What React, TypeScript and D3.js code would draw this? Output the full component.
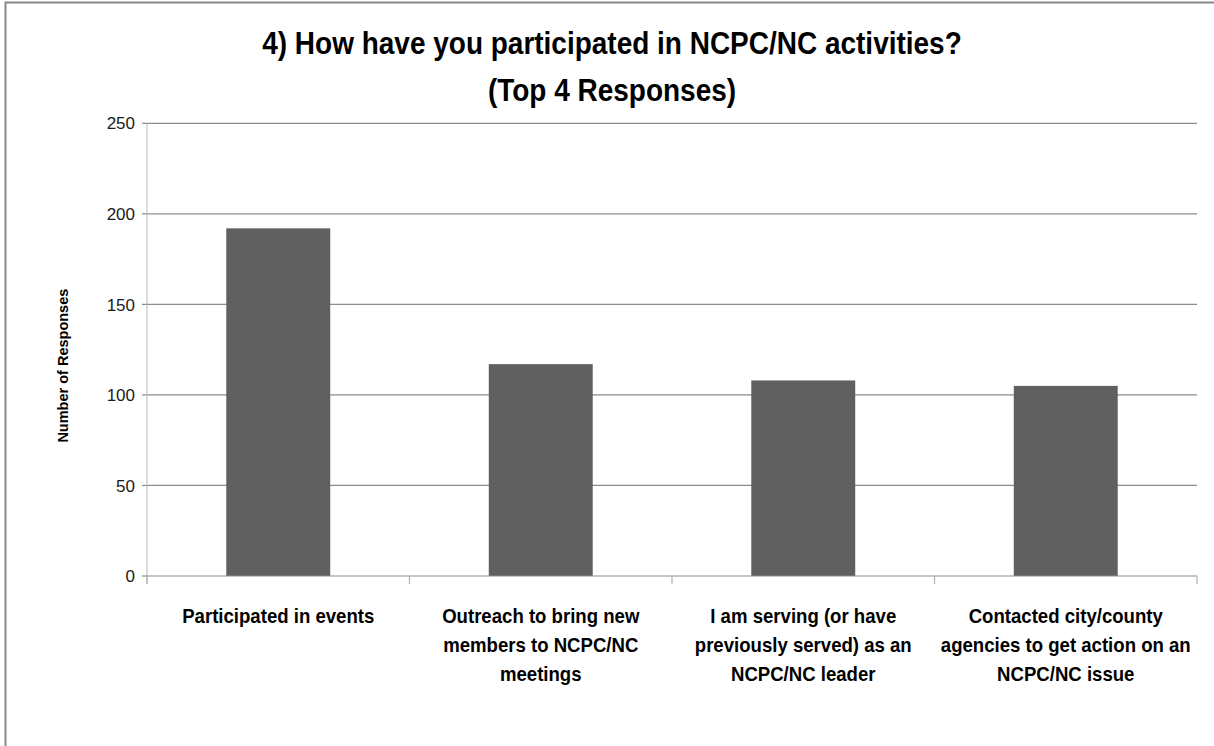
import React from "react";
import * as d3 from "d3";

const titleLines = ["4) How have you participated in NCPC/NC activities?", "(Top 4 Responses)"];
const categories = [
  "Participated in events",
  "Outreach to bring new members to NCPC/NC meetings",
  "I am serving (or have previously served) as an NCPC/NC leader",
  "Contacted city/county agencies to get action on an NCPC/NC issue",
];
const categoryLines = [
  ["Participated in events"],
  ["Outreach to bring new", "members to NCPC/NC", "meetings"],
  ["I am serving (or have", "previously served) as an", "NCPC/NC leader"],
  ["Contacted city/county", "agencies to get action on an", "NCPC/NC issue"],
];
const values = [192, 117, 108, 105];
const yTicks = [0, 50, 100, 150, 200, 250];
const yLabel = "Number of Responses";

const W = 1214;
const H = 746;
const M = { left: 147, right: 1197, top: 123.3, bottom: 576 };
const FONT = "'Liberation Sans', Arial, sans-serif";

export default function App() {
  const x = d3
    .scaleBand<string>()
    .domain(categories)
    .range([M.left, M.right])
    .paddingInner(0.604)
    .paddingOuter(0.302);
  const y = d3.scaleLinear().domain([0, 250]).range([M.bottom, M.top]);
  const step = x.step();
  const boundaries = d3.range(categories.length + 1).map((i) => M.left + i * step);

  return (
    <svg
      width={W}
      height={H}
      style={{ position: "absolute", left: 0, top: 0, background: "#fff" }}
    >
      <rect x={0} y={0} width={W} height={H} fill="#fff" />
      {/* outer border */}
      <path d={`M5.5,${H + 5} V2.5 H${W + 5}`} fill="none" stroke="#878787" strokeWidth={2} />

      {/* title */}
      {titleLines.map((t, i) => (
        <text
          key={i}
          transform={`translate(612,${54 + i * 47}) scale(0.965,1.05)`}
          x={0}
          y={0}
          textAnchor="middle"
          fontFamily={FONT}
          fontWeight="bold"
          fontSize={29}
          fill="#000"
        >
          {t}
        </text>
      ))}

      {/* gridlines */}
      {yTicks.filter((t) => t > 0).map((t) => (
        <line key={t} x1={M.left} x2={M.right} y1={y(t)} y2={y(t)} stroke="#8c8c8c" strokeWidth={1.2} />
      ))}

      {/* y axis */}
      <line x1={M.left} x2={M.left} y1={M.top} y2={M.bottom + 8} stroke="#c4c4c4" strokeWidth={1.2} />
      {yTicks.map((t) => (
        <g key={t}>
          <line x1={M.left - 5} x2={M.left} y1={y(t)} y2={y(t)} stroke="#8c8c8c" strokeWidth={1.2} />
          <text
            x={M.left - 12}
            y={y(t)}
            dy="0.36em"
            textAnchor="end"
            fontFamily={FONT}
            fontSize={17}
            fill="#1a1a1a"
          >
            {t}
          </text>
        </g>
      ))}

      {/* bars */}
      {categories.map((c, i) => (
        <rect
          key={c}
          x={x(c)}
          y={y(values[i])}
          width={x.bandwidth()}
          height={y(0) - y(values[i])}
          fill="#606060"
        />
      ))}

      {/* x axis */}
      <line x1={M.left} x2={M.right} y1={M.bottom} y2={M.bottom} stroke="#8c8c8c" strokeWidth={1.2} />
      {boundaries.map((bx, i) => (
        <line key={i} x1={bx} x2={bx} y1={M.bottom} y2={M.bottom + 8} stroke="#b0b0b0" strokeWidth={1.2} />
      ))}
      {categories.map((c, i) => (
        <text
          key={c}
          transform={`translate(${(x(c) as number) + x.bandwidth() / 2},0) scale(0.93,1)`}
          textAnchor="middle"
          fontFamily={FONT}
          fontWeight="bold"
          fontSize={20}
          fill="#000"
        >
          {categoryLines[i].map((l, j) => (
            <tspan key={j} x={0} y={623 + j * 29}>
              {l}
            </tspan>
          ))}
        </text>
      ))}

      {/* y label */}
      <text
        transform={`translate(68,${(M.top + M.bottom) / 2 + 16}) rotate(-90)`}
        textAnchor="middle"
        fontFamily={FONT}
        fontWeight="bold"
        fontSize={14.5}
        fill="#000"
      >
        {yLabel}
      </text>
    </svg>
  );
}
